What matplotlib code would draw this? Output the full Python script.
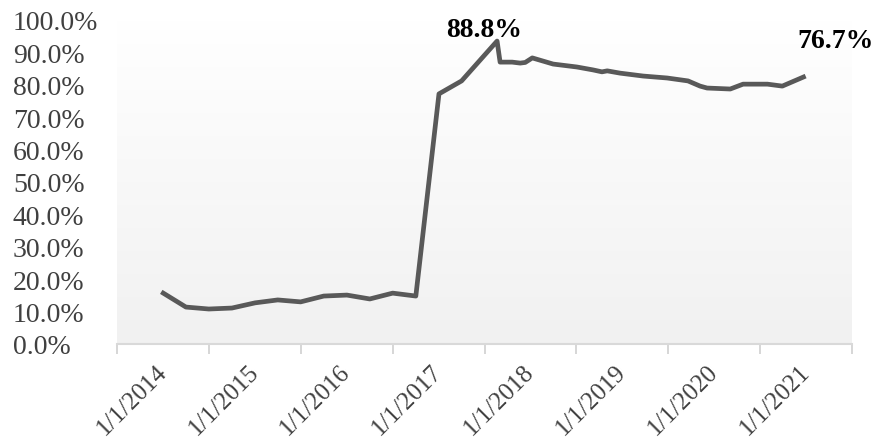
import numpy as np
import pandas as pd
import matplotlib
matplotlib.use("Agg")
import matplotlib.pyplot as plt
from matplotlib.ticker import PercentFormatter

plt.rcParams['font.family'] = ['Liberation Serif', 'DejaVu Serif']

# series
dates = ["2014-01-01", "2014-04-01", "2014-07-01", "2014-10-01",
         "2015-01-01", "2015-04-01", "2015-07-01", "2015-10-01",
         "2016-01-01", "2016-04-01", "2016-07-01", "2016-10-01",
         "2017-01-01", "2017-04-01", "2017-08-20", "2017-09-01",
         "2017-10-19", "2017-11-20", "2017-12-10", "2018-01-07",
         "2018-03-31", "2018-07-03", "2018-09-05", "2018-10-11",
         "2018-11-01", "2018-12-22", "2019-03-24", "2019-06-27",
         "2019-09-18", "2019-11-05", "2019-12-03", "2020-03-04",
         "2020-04-24", "2020-07-30", "2020-09-27", "2020-12-20"]
values = [15.7, 11.4, 10.8, 11.1,
          12.7, 13.6, 13.0, 14.8,
          15.1, 13.9, 15.7, 14.8,
          77.2, 81.2, 93.5, 87.0,
          87.0, 86.7, 86.9, 88.3,
          86.4, 85.5, 84.6, 84.0,
          84.3, 83.6, 82.7, 82.1,
          81.2, 79.6, 79.0, 78.7,
          80.2, 80.2, 79.6, 82.4]

year_labels = ["1/1/2014", "1/1/2015", "1/1/2016", "1/1/2017",
               "1/1/2018", "1/1/2019", "1/1/2020", "1/1/2021"]
annotations = [("2017-07-01", 97.0, "88.8%"), ("2021-04-25", 93.8, "76.7%")]

x = pd.to_datetime(dates)
y = np.array(values) / 100

fig = plt.figure(figsize=(8.79, 4.39), dpi=100)
ax = fig.add_axes([117/879, 94/439, 735/879, 324/439])

# soft vertical gradient behind the plot area
grad = np.linspace(1.0, 0.0, 256).reshape(-1, 1)
ax.imshow(grad, extent=[0, 1, 0, 1], transform=ax.transAxes, aspect='auto',
          cmap=matplotlib.colors.LinearSegmentedColormap.from_list('g', ['#f1f1f1', '#ffffff']),
          zorder=0)

ax.plot(x, y, color='#595959', lw=3.4, solid_joinstyle='round', zorder=3)

ax.set_xlim(pd.Timestamp("2013-07-01"), pd.Timestamp("2021-07-01"))
ax.set_ylim(0, 1.0)

ax.yaxis.set_major_locator(matplotlib.ticker.MultipleLocator(0.1))
ax.yaxis.set_major_formatter(PercentFormatter(1.0, decimals=1))
ax.tick_params(axis='y', length=0, pad=75, labelsize=20, labelcolor='#404040')
for t in ax.get_yticklabels():
    t.set_horizontalalignment('left')

major = pd.to_datetime(["%s-01-01" % l.split('/')[-1] for l in year_labels])
ax.set_xticks(major)
ax.set_xticklabels(year_labels)
ax.set_xticks(pd.date_range("2013-07-01", "2021-07-01", freq="12MS"), minor=True)
ax.tick_params(axis='x', which='major', length=0, pad=17, labelsize=18, labelcolor='#404040')
ax.tick_params(axis='x', which='minor', length=7, width=1.2, color='#d0d0d0')
for t in ax.get_xticklabels():
    t.set_rotation(45)
    t.set_horizontalalignment('right')
    t.set_verticalalignment('center')
    t.set_rotation_mode('anchor')

for s in ['top', 'right', 'left']:
    ax.spines[s].set_visible(False)
ax.spines['bottom'].set_color('#d9d9d9')
ax.spines['bottom'].set_linewidth(1.5)

for d, v, txt in annotations:
    ax.text(pd.Timestamp(d), v / 100, txt, ha='center', va='center', fontsize=20,
            fontweight='bold', color='#000000', clip_on=False, zorder=4)

fig.savefig("out.png", dpi=100)
